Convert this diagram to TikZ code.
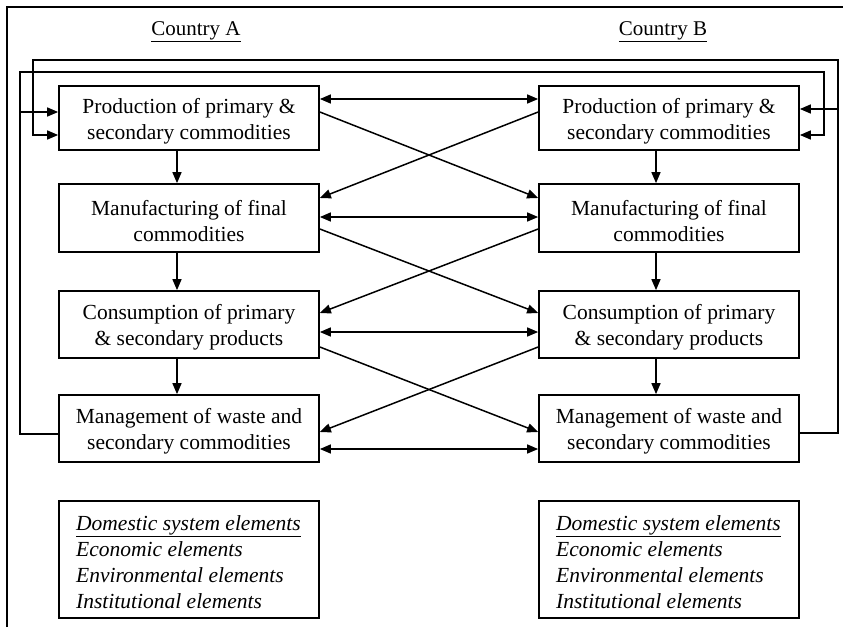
\documentclass[tikz,border=0pt]{standalone}
\usepackage{fontspec}
\setmainfont{Liberation Serif}
\usetikzlibrary{arrows.meta}
\newcommand\boxstrut{\rule{0pt}{21pt}}
\tikzset{
  box/.style={draw, line width=1.7pt, minimum width=260pt, align=center, inner sep=0pt,
    font=\fontsize{21.5}{26}\selectfont},
  elembox/.style={draw, line width=1.7pt, minimum width=260pt, minimum height=117pt, inner sep=0pt},
  elemtext/.style={anchor=north west, align=left, inner sep=0pt,
    font=\fontsize{21.5}{26}\selectfont\itshape},
  lbl/.style={inner sep=0pt, font=\fontsize{21}{25}\selectfont},
  arr/.style={line width=1.5pt, -{Triangle[length=11pt,width=9pt]}},
  darr/.style={line width=1.5pt, {Triangle[length=11pt,width=9pt]}-{Triangle[length=11pt,width=9pt]}},
}
\begin{document}
\begin{tikzpicture}[x=1pt,y=-1pt]
\useasboundingbox (0,0) rectangle (843,627);
% outer frame (only top and left edges visible)
\draw[line width=1.8pt] (7,627) -- (7,7) -- (843,7);

% headings
\node[lbl] (ca) at (196,32) {\underline{Country A}};
\node[lbl] (cb) at (663,32) {\underline{Country B}};

% boxes, country A
\node[box, minimum height=64pt] (pa) at (189,118) {\boxstrut Production of primary \&\\secondary commodities};
\node[box, minimum height=68pt] (ma) at (189,218) {\boxstrut Manufacturing of final\\commodities};
\node[box, minimum height=67pt] (ka) at (189,324.5) {\boxstrut Consumption of primary\\\& secondary products};
\node[box, minimum height=67pt] (ga) at (189,428.5) {\boxstrut Management of waste and\\secondary commodities};
% boxes, country B
\node[box, minimum height=64pt] (pb) at (669,118) {\boxstrut Production of primary \&\\secondary commodities};
\node[box, minimum height=68pt] (mb) at (669,218) {\boxstrut Manufacturing of final\\commodities};
\node[box, minimum height=67pt] (kb) at (669,324.5) {\boxstrut Consumption of primary\\\& secondary products};
\node[box, minimum height=67pt] (gb) at (669,428.5) {\boxstrut Management of waste and\\secondary commodities};

% element boxes
\node[elembox] (ea) at (189,559.5) {};
\node[elemtext] (eat) at (76,515) {\underline{Domestic system elements}\\Economic elements\\Environmental elements\\Institutional elements};
\node[elembox] (eb) at (669,559.5) {};
\node[elemtext] (ebt) at (556,515) {\underline{Domestic system elements}\\Economic elements\\Environmental elements\\Institutional elements};

% vertical flows
\draw[arr] (pa.south -| 177,0) -- (ma.north -| 177,0);
\draw[arr] (ma.south -| 177,0) -- (ka.north -| 177,0);
\draw[arr] (ka.south -| 177,0) -- (ga.north -| 177,0);
\draw[arr] (pb.south -| 656,0) -- (mb.north -| 656,0);
\draw[arr] (mb.south -| 656,0) -- (kb.north -| 656,0);
\draw[arr] (kb.south -| 656,0) -- (gb.north -| 656,0);

% horizontal exchanges
\draw[darr] (pa.east |- 0,99) -- (pb.west |- 0,99);
\draw[darr] (ma.east |- 0,217) -- (mb.west |- 0,217);
\draw[darr] (ka.east |- 0,332) -- (kb.west |- 0,332);
\draw[darr] (ga.east |- 0,449) -- (gb.west |- 0,449);

% cross flows
\draw[arr] (pa.east |- 0,112) -- (mb.west |- 0,198);
\draw[arr] (pb.west |- 0,112) -- (ma.east |- 0,198);
\draw[arr] (ma.east |- 0,229) -- (kb.west |- 0,313);
\draw[arr] (mb.west |- 0,229) -- (ka.east |- 0,313);
\draw[arr] (ka.east |- 0,347) -- (gb.west |- 0,432);
\draw[arr] (kb.west |- 0,347) -- (ga.east |- 0,432);

% feedback loops
\coordinate (la) at (20,112);
\coordinate (rb) at (838,109);
\draw[arr] (ga.west |- 0,434) -- (20,434) -- (20,72) -- (824,72) -- (824,135) -- (pb.east |- 0,135);
\draw[arr] (la) -- (pa.west |- 0,112);
\draw[arr] (gb.east |- 0,433) -- (838,433) -- (838,60) -- (33,60) -- (33,135) -- (pa.west |- 0,135);
\draw[arr] (rb) -- (pb.east |- 0,109);
\end{tikzpicture}
\end{document}
